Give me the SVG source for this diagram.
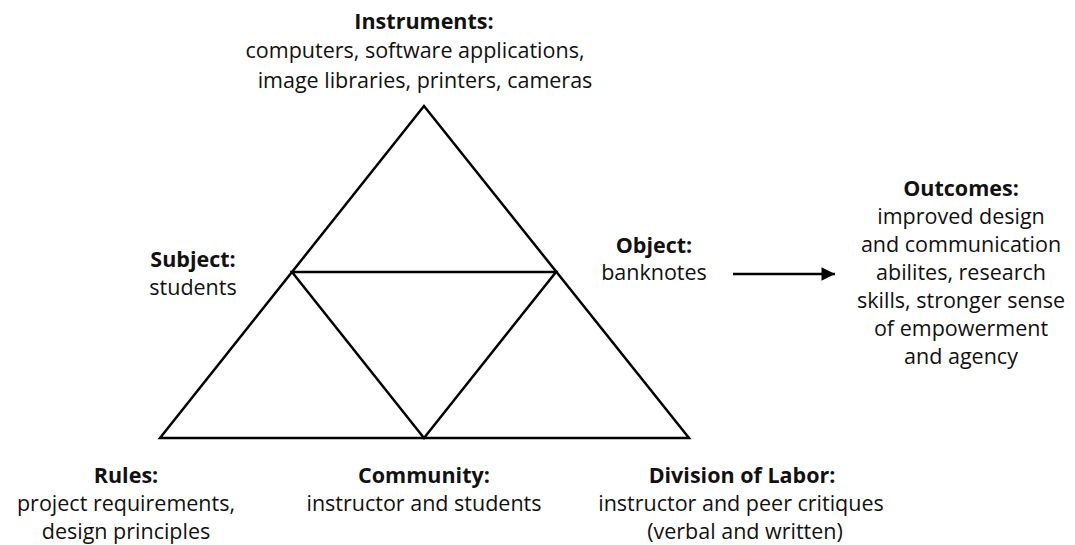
<svg xmlns="http://www.w3.org/2000/svg" width="1075" height="545" viewBox="0 0 1075 545">
<defs>
<style>
text{font-family:"Open Sans","Liberation Sans",sans-serif;font-size:21.5px;fill:#111;text-anchor:middle}
.h{font-weight:bold}
.ln{stroke:#000;stroke-width:2.5;fill:none;stroke-linejoin:miter}
</style>
<marker id="ah" viewBox="0 0 10 10" refX="10" refY="5" markerWidth="6" markerHeight="5.4" orient="auto" markerUnits="strokeWidth">
<path d="M0,0 L10,5 L0,10 z" fill="#000"/>
</marker>
</defs>
<rect width="1075" height="545" fill="#fff"/>
<g id="triangle">
<polygon class="ln" points="424,106 160,438 689,438"/>
<polygon class="ln" points="292,272 556,272 424,438"/>
</g>
<g id="connectors">
<line class="ln" x1="733" y1="274" x2="835" y2="274" marker-end="url(#ah)"/>
</g>
<g id="instruments">
<text class="h" x="424" y="29">Instruments:</text>
<text x="415" y="58">computers, software applications,</text>
<text x="425" y="88">image libraries, printers, cameras</text>
</g>
<g id="subject">
<text class="h" x="193" y="267">Subject:</text>
<text x="193" y="295">students</text>
</g>
<g id="object">
<text class="h" x="654" y="253">Object:</text>
<text x="654" y="280">banknotes</text>
</g>
<g id="outcomes">
<text class="h" x="961" y="196">Outcomes:</text>
<text x="961" y="224">improved design</text>
<text x="961" y="252">and communication</text>
<text x="961" y="280">abilites, research</text>
<text x="961" y="308">skills, stronger sense</text>
<text x="961" y="336">of empowerment</text>
<text x="961" y="364">and agency</text>
</g>
<g id="rules">
<text class="h" x="126" y="483">Rules:</text>
<text x="126" y="511">project requirements,</text>
<text x="126" y="539">design principles</text>
</g>
<g id="community">
<text class="h" x="424" y="483">Community:</text>
<text x="424" y="511">instructor and students</text>
</g>
<g id="division">
<text class="h" x="742" y="483">Division of Labor:</text>
<text x="741" y="511">instructor and peer critiques</text>
<text x="745" y="539">(verbal and written)</text>
</g>
</svg>
